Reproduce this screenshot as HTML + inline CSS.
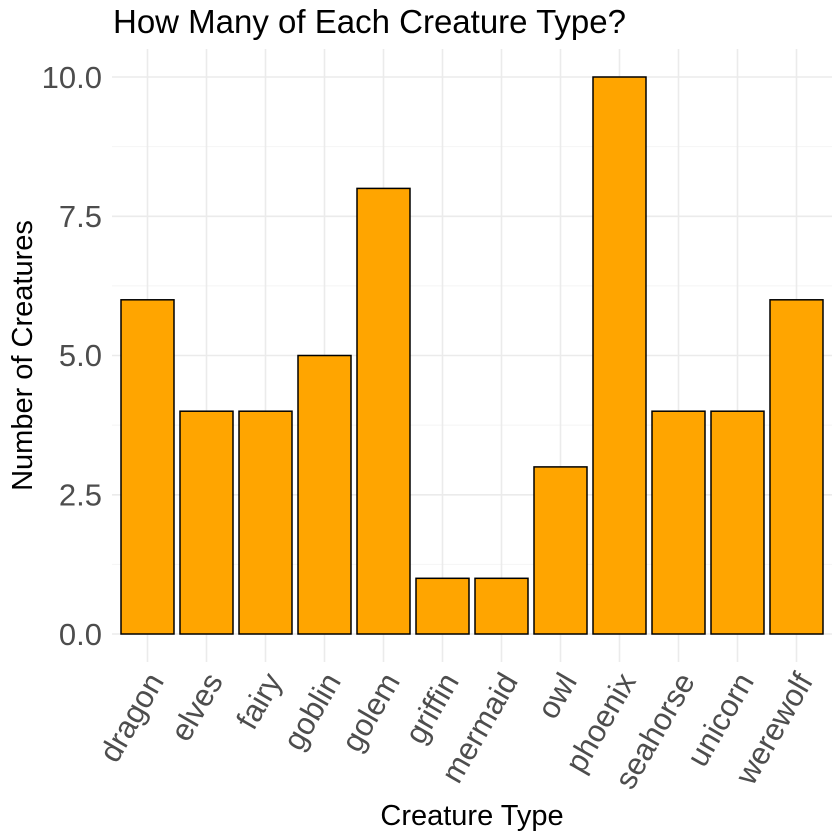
<!DOCTYPE html>
<html><head><meta charset="utf-8"><style>body{margin:0;background:#fff}svg{display:block}</style></head>
<body>
<svg width="840" height="840" xmlns="http://www.w3.org/2000/svg" font-family="Liberation Sans, sans-serif">
<rect width="840" height="840" fill="#fff"/>
<g stroke="#f4f4f4" stroke-width="1">
<line x1="112" x2="832" y1="564.4" y2="564.4"/><line x1="112" x2="832" y1="425.1" y2="425.1"/><line x1="112" x2="832" y1="285.9" y2="285.9"/><line x1="112" x2="832" y1="146.6" y2="146.6"/>
</g>
<g stroke="#ebebeb" stroke-width="1.6">
<line x1="112" x2="832" y1="634" y2="634"/><line x1="112" x2="832" y1="494.8" y2="494.8"/><line x1="112" x2="832" y1="355.5" y2="355.5"/><line x1="112" x2="832" y1="216.3" y2="216.3"/><line x1="112" x2="832" y1="77" y2="77"/>
<line x1="147.5" x2="147.5" y1="49" y2="662"/><line x1="206.5" x2="206.5" y1="49" y2="662"/><line x1="265.5" x2="265.5" y1="49" y2="662"/><line x1="324.5" x2="324.5" y1="49" y2="662"/><line x1="383.5" x2="383.5" y1="49" y2="662"/><line x1="442.5" x2="442.5" y1="49" y2="662"/><line x1="501.5" x2="501.5" y1="49" y2="662"/><line x1="560.5" x2="560.5" y1="49" y2="662"/><line x1="619.5" x2="619.5" y1="49" y2="662"/><line x1="678.5" x2="678.5" y1="49" y2="662"/><line x1="737.5" x2="737.5" y1="49" y2="662"/><line x1="796.5" x2="796.5" y1="49" y2="662"/>
</g>
<g fill="#ffa500" stroke="#000" stroke-width="1.5">
<rect x="121" y="299.8" width="53" height="334.2"/>
<rect x="180" y="411.2" width="53" height="222.8"/>
<rect x="239" y="411.2" width="53" height="222.8"/>
<rect x="298" y="355.5" width="53" height="278.5"/>
<rect x="357" y="188.4" width="53" height="445.6"/>
<rect x="416" y="578.3" width="53" height="55.7"/>
<rect x="475" y="578.3" width="53" height="55.7"/>
<rect x="534" y="466.9" width="53" height="167.1"/>
<rect x="593" y="77" width="53" height="557"/>
<rect x="652" y="411.2" width="53" height="222.8"/>
<rect x="711" y="411.2" width="53" height="222.8"/>
<rect x="770" y="299.8" width="53" height="334.2"/>
</g>
<g fill="#4d4d4d" font-size="31" text-anchor="end">
<text x="102" y="645">0.0</text><text x="102" y="505.5">2.5</text><text x="102" y="366">5.0</text><text x="102" y="227">7.5</text><text x="102" y="88">10.0</text>
</g>
<g fill="#4d4d4d" font-size="31" text-anchor="end">
<text transform="translate(146,670) rotate(-60)" dy="0.7em">dragon</text>
<text transform="translate(205,670) rotate(-60)" dy="0.7em">elves</text>
<text transform="translate(264,670) rotate(-60)" dy="0.7em">fairy</text>
<text transform="translate(323,670) rotate(-60)" dy="0.7em">goblin</text>
<text transform="translate(382,670) rotate(-60)" dy="0.7em">golem</text>
<text transform="translate(441,670) rotate(-60)" dy="0.7em">griffin</text>
<text transform="translate(500,670) rotate(-60)" dy="0.7em">mermaid</text>
<text transform="translate(559,670) rotate(-60)" dy="0.7em">owl</text>
<text transform="translate(618,670) rotate(-60)" dy="0.7em">phoenix</text>
<text transform="translate(677,670) rotate(-60)" dy="0.7em">seahorse</text>
<text transform="translate(736,670) rotate(-60)" dy="0.7em">unicorn</text>
<text transform="translate(795,670) rotate(-60)" dy="0.7em">werewolf</text>
</g>
<text x="472" y="825" font-size="29" text-anchor="middle" fill="#000">Creature Type</text>
<text transform="translate(32,355.5) rotate(-90)" font-size="29" text-anchor="middle" fill="#000">Number of Creatures</text>
<text x="113" y="33" font-size="33" fill="#000">How Many of Each Creature Type?</text>
</svg>
</body></html>
